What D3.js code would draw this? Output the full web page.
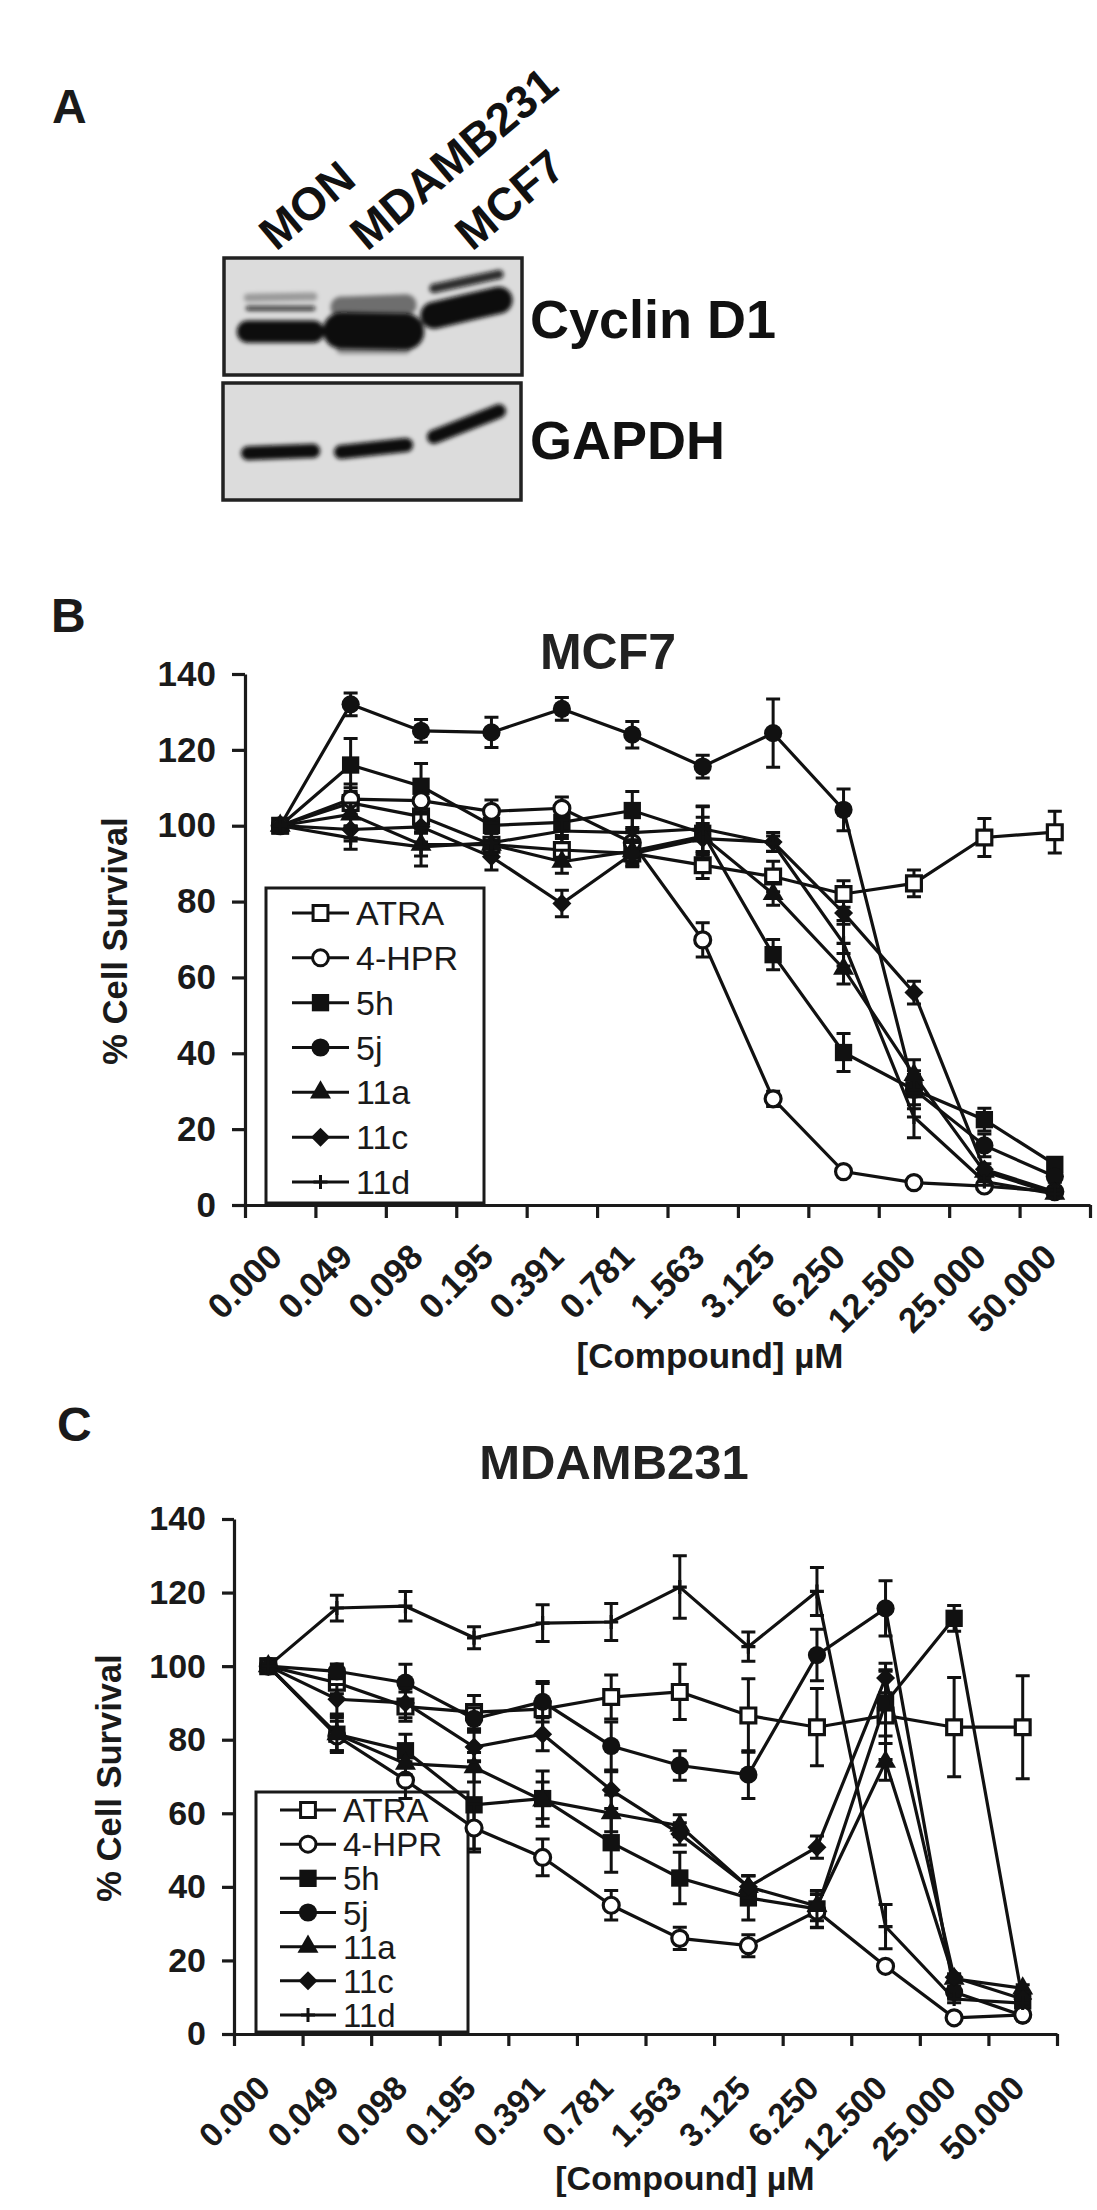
<!DOCTYPE html>
<html>
<head>
<meta charset="utf-8">
<script src="https://cdn.jsdelivr.net/npm/d3@7"></script>
<style>
  html, body { margin: 0; padding: 0; background: #fff; }
  svg { display: block; font-family: "Liberation Sans", Arial, sans-serif; }
  .axis path, .axis line { stroke: #1a1a1a; stroke-width: 3.2; }
  .axis text { font-weight: bold; fill: #1a1a1a; }
</style>
</head>
<body>
<svg id="figure" width="1097" height="2210"></svg>
<script>
// x axis categories and y ticks, shared by both panels
const concentrations = ['0.000', '0.049', '0.098', '0.195', '0.391', '0.781', '1.563', '3.125', '6.250', '12.500', '25.000', '50.000'];
const survivalTicks = [0, 20, 40, 60, 80, 100, 120, 140];
const compounds = ['ATRA', '4-HPR', '5h', '5j', '11a', '11c', '11d'];

// panel B, MCF7
const mcf7Atra = [100, 106, 102.4, 95, 93.6, 92.7, 89.6, 86.6, 82, 84.8, 96.9, 98.3];
const mcf7AtraErr = [0, 4, 4, 3, 3, 3.5, 3.5, 4, 3.5, 3.5, 5, 5.5];
const mcf7Hpr = [100, 107, 106.6, 103.8, 104.6, 95.5, 69.9, 28, 8.8, 5.9, 5, 3.5];
const mcf7HprErr = [0, 4, 3.5, 3, 3, 4, 4.5, 2, 1, 0.5, 0.7, 0.5];
const mcf75h = [100, 116, 110.4, 100.1, 100.9, 104, 98, 66, 40.2, 30.4, 22.5, 10.7];
const mcf75hErr = [0, 7, 6, 4, 3.5, 5, 7, 4, 5, 4, 3, 1.5];
const mcf75j = [100, 132, 125, 124.6, 130.8, 124, 115.6, 124.4, 104.2, 30.4, 15.7, 7.5];
const mcf75jErr = [0, 3, 3, 4, 3, 3.5, 3, 9, 5.5, 5, 3, 1.5];
const mcf711a = [100, 103, 95, 95, 90.5, 93.3, 97.2, 82, 62.3, 34.3, 8.8, 3];
const mcf711aErr = [0, 3, 3, 3, 3, 3, 5, 3, 4, 4, 1, 1];
const mcf711c = [100, 99, 99.7, 91.8, 79.5, 92.6, 96.6, 95.7, 77, 56, 9.4, 3.5];
const mcf711cErr = [0, 3, 4, 3.5, 3.5, 3, 4, 2.5, 3, 3, 1.5, 1];
const mcf711d = [100, 96.8, 94.4, 95.5, 98.6, 98.2, 99.2, 95.3, 69, 23.2, 6.2, 2.9];
const mcf711dErr = [0, 3, 5, 3, 3, 5, 6, 2, 6, 5.5, 1, 1];

// panel C, MDAMB231
const mdaAtra = [100, 95.5, 89, 87.5, 88.3, 91.6, 93, 86.6, 83.4, 86.6, 83.4, 83.4];
const mdaAtraErr = [0, 3, 4, 4.5, 7, 6, 7.5, 10, 10.5, 12, 13.5, 14];
const mdaHpr = [100, 81, 69, 56, 48, 35, 26, 24, 33.4, 18.4, 4.4, 5.2];
const mdaHprErr = [0, 4, 5, 6.5, 5, 4, 3, 3, 4.5, 1, 1, 0.5];
const mda5h = [100, 81.5, 77, 62.3, 64, 52, 42.4, 37, 34, 90, 113, 9];
const mda5hErr = [0, 4.5, 4.5, 12, 7.5, 8, 7, 6, 5, 9, 3.5, 1];
const mda5j = [100, 98.6, 95.5, 85.7, 90.3, 78.3, 73, 70.5, 103, 115.7, 11.4, 5];
const mda5jErr = [0, 2, 5, 3, 5.5, 6.5, 4, 6.5, 7, 7.5, 1.5, 1];
const mda11a = [100, 81.5, 73.5, 72.5, 63.5, 60, 56.6, 40, 34.8, 74, 15, 12.4];
const mda11aErr = [0, 5, 3, 4, 5, 5, 3, 3, 4, 5, 1, 1];
const mda11c = [100, 91, 90, 78, 81.5, 66.3, 54.4, 40, 50.8, 96.8, 15.4, 9.5];
const mda11cErr = [0, 4, 4, 4, 4.5, 5, 3, 3, 3, 4, 1, 2];
const mda11d = [100, 115.8, 116.3, 107.7, 111.7, 112, 121.5, 105.3, 120.3, 29.2, 9.5, 8.4];
const mda11dErr = [0, 3.5, 4, 3, 5, 5, 8.5, 4, 6.5, 6, 1, 1];

// panel A, western blot: lanes, and bands as [lane, migration at left, migration at right, amount, darkness]
const blotLanes = ['MON', 'MDAMB231', 'MCF7'];
const cyclinBands = [
  ['MON', 43, 43, 4, 0.8], ['MON', 34, 33, 7, 0.3], ['MON', 63, 63, 19, 1],
  ['MDAMB231', 42, 40, 18, 0.5], ['MDAMB231', 62, 63, 31, 1], ['MDAMB231', 78, 78, 8, 0.35],
  ['MCF7', 26, 14, 8, 0.85], ['MCF7', 49, 36, 23, 1]
];
const gapdhBands = [
  ['MON', 60, 58, 12, 1], ['MDAMB231', 59, 53, 12, 1], ['MCF7', 46, 24, 12, 1]
];

const svg = d3.select('#figure');

// markers, drawn in the order they sit on top of each other in the figure
const symbols = {
  'ATRA': { type: d3.symbolSquare, size: 220, fill: '#fff' },
  '4-HPR': { type: d3.symbolCircle, size: 200, fill: '#fff' },
  '5h': { type: d3.symbolSquare, size: 300, fill: '#111' },
  '5j': { type: d3.symbolCircle, size: 260, fill: '#111' },
  '11a': { type: d3.symbolTriangle, size: 190, fill: '#111' },
  '11c': { type: d3.symbolDiamond2, size: 230, fill: '#111' },
  '11d': { type: d3.symbolPlus, size: 66, fill: 'none' }
};
const drawOrder = ['ATRA', '5h', '5j', '4-HPR', '11a', '11c', '11d'];

class SurvivalChart {

  constructor(_config, _series) {
    this.config = _config;
    this.series = _series;
    this.initVis();
  }

  initVis() {
    let vis = this;
    let c = vis.config;

    vis.xScale = d3.scaleBand().domain(concentrations).range([c.left, c.right]);
    vis.yScale = d3.scaleLinear().domain([0, 140]).range([c.bottom, c.top]);
    // ticks sit between the categories, so they get their own scale
    vis.edgeScale = d3.scaleLinear().domain([0, concentrations.length]).range([c.left, c.right]);

    vis.chart = svg.append('g');

    vis.chart.append('g')
      .attr('class', 'axis')
      .attr('transform', `translate(${c.left},0)`)
      .call(d3.axisLeft(vis.yScale).tickValues(survivalTicks).tickSize(c.tickLen).tickPadding(16).tickSizeOuter(0))
      .selectAll('text').style('font-size', c.tickFont + 'px');

    vis.chart.append('g')
      .attr('class', 'axis')
      .attr('transform', `translate(0,${c.bottom})`)
      .call(d3.axisBottom(vis.edgeScale).tickValues(d3.range(concentrations.length + 1)).tickFormat('').tickSize(c.tickLen).tickSizeOuter(0));

    let labels = vis.chart.append('g')
      .attr('class', 'axis')
      .attr('transform', `translate(0,${c.bottom})`)
      .call(d3.axisBottom(vis.xScale).tickSize(0));
    labels.select('.domain').remove();
    labels.selectAll('text')
      .attr('x', 0).attr('y', 0).attr('dy', 0)
      .attr('text-anchor', 'end')
      .attr('transform', `translate(4,${c.labelDrop}) rotate(-45)`)
      .style('font-size', c.xTickFont + 'px');

    vis.chart.append('text')
      .attr('x', c.titleX).attr('y', c.titleY)
      .attr('text-anchor', 'middle')
      .style('font-size', c.titleFont + 'px').style('font-weight', 'bold').style('fill', '#222')
      .text(c.title);

    vis.chart.append('text')
      .attr('x', c.xLabelX).attr('y', c.xLabelY)
      .attr('text-anchor', 'middle')
      .style('font-size', c.xLabelFont + 'px').style('font-weight', 'bold').style('fill', '#1a1a1a')
      .text('[Compound] µM');

    vis.chart.append('text')
      .attr('transform', `translate(${c.yLabelX},${c.yLabelY}) rotate(-90)`)
      .attr('text-anchor', 'middle')
      .style('font-size', '34.5px').style('font-weight', 'bold').style('fill', '#1a1a1a')
      .text('% Cell Survival');

    vis.drawLegend();
    vis.drawSeries();
  }

  drawLegend() {
    let vis = this;
    let l = vis.config.legend;

    vis.chart.append('rect')
      .attr('x', l.x).attr('y', l.y).attr('width', l.w).attr('height', l.h)
      .attr('fill', '#fff').attr('stroke', '#1a1a1a').attr('stroke-width', 3);

    let rowScale = d3.scalePoint().domain(compounds).range([l.firstRow, l.lastRow]);

    let rows = vis.chart.append('g').selectAll('g')
      .data(compounds).join('g')
      .attr('transform', d => `translate(${l.x},${rowScale(d)})`);

    rows.append('line')
      .attr('x1', l.lineFrom).attr('x2', l.lineTo)
      .attr('stroke', '#111').attr('stroke-width', 3);

    rows.append('path')
      .attr('transform', `translate(${(l.lineFrom + l.lineTo) / 2},0)`)
      .attr('d', d => d3.symbol().type(symbols[d].type).size(symbols[d].size)())
      .attr('fill', d => symbols[d].fill)
      .attr('stroke', '#111').attr('stroke-width', d => symbols[d].fill === '#111' ? 0 : 3);

    rows.append('text')
      .attr('x', l.textX).attr('y', 12)
      .style('font-size', l.font + 'px').style('fill', '#1a1a1a')
      .text(d => d);
  }

  drawSeries() {
    let vis = this;
    let x = d => vis.xScale(d) + vis.xScale.bandwidth() / 2;
    let y = vis.yScale;
    let capW = 7;

    let line = d3.line().x(d => x(d.conc)).y(d => y(d.value));

    drawOrder.forEach(name => {
      let s = vis.series[name];
      let points = concentrations.map((conc, i) => ({ conc, value: s.values[i], err: s.errors[i] }));
      let g = vis.chart.append('g');

      g.append('path')
        .attr('d', line(points))
        .attr('fill', 'none').attr('stroke', '#111').attr('stroke-width', 3.2);

      g.selectAll('.err').data(points.filter(d => d.err > 0)).join('path')
        .attr('class', 'err')
        .attr('fill', 'none').attr('stroke', '#111').attr('stroke-width', 3)
        .attr('d', d => {
          let px = x(d.conc), hi = y(d.value + d.err), lo = y(d.value - d.err);
          return `M${px - capW},${hi}H${px + capW}M${px},${hi}V${lo}M${px - capW},${lo}H${px + capW}`;
        });

      g.selectAll('.marker').data(points).join('path')
        .attr('class', 'marker')
        .attr('transform', d => `translate(${x(d.conc)},${y(d.value)})`)
        .attr('d', d3.symbol().type(symbols[name].type).size(symbols[name].size)())
        .attr('fill', symbols[name].fill)
        .attr('stroke', '#111').attr('stroke-width', symbols[name].fill === '#111' ? 0 : 3.2);
    });
  }
}

function panelLetter(letter, x, y) {
  svg.append('text').attr('x', x).attr('y', y)
    .style('font-size', '48px').style('font-weight', 'bold').style('fill', '#1a1a1a')
    .text(letter);
}

// ---- panel A
function drawBlot(box, bands, laneScale) {
  let yScale = d3.scaleLinear().domain([0, 100]).range([box.y, box.y + box.h]);

  svg.append('rect')
    .attr('x', box.x).attr('y', box.y).attr('width', box.w).attr('height', box.h)
    .attr('fill', '#dcdcdc');

  let edge = laneScale.bandwidth();
  svg.append('g').attr('filter', 'url(#blotBlur)')
    .selectAll('path').data(bands).join('path')
    .attr('d', d => d3.line().curve(d3.curveBasis)([
      [laneScale(d[0]), yScale(d[1])],
      [laneScale(d[0]) + edge / 2, yScale((d[1] + d[2]) / 2)],
      [laneScale(d[0]) + edge, yScale(d[2])]
    ]))
    .attr('fill', 'none')
    .attr('stroke', '#0a0a0a')
    .attr('stroke-linecap', 'round')
    .attr('stroke-opacity', d => d[4])
    .attr('stroke-width', d => yScale(d[3]) - yScale(0));

  svg.append('rect')
    .attr('x', box.x).attr('y', box.y).attr('width', box.w).attr('height', box.h)
    .attr('fill', 'none').attr('stroke', '#222').attr('stroke-width', 3.5);
}

svg.append('defs').append('filter').attr('id', 'blotBlur')
  .attr('x', '-20%').attr('y', '-30%').attr('width', '140%').attr('height', '160%')
  .append('feGaussianBlur').attr('stdDeviation', 2.2);

const laneScale = d3.scaleBand().domain(blotLanes).range([248, 499]).paddingInner(0.3);

drawBlot({ x: 224, y: 258, w: 298, h: 117 }, cyclinBands, laneScale);
drawBlot({ x: 223, y: 383, w: 298, h: 117 }, gapdhBands, laneScale);

const laneLabelX = [276, 367, 472];
blotLanes.forEach((lane, i) => {
  svg.append('text')
    .attr('transform', `translate(${laneLabelX[i]},252) rotate(-40)`)
    .style('font-size', '46px').style('font-weight', 'bold').style('fill', '#111')
    .text(lane);
});

svg.append('text').attr('x', 530).attr('y', 338)
  .style('font-size', '54px').style('font-weight', 'bold').style('fill', '#111').text('Cyclin D1');
svg.append('text').attr('x', 530).attr('y', 459)
  .style('font-size', '54px').style('font-weight', 'bold').style('fill', '#111').text('GAPDH');

panelLetter('A', 52, 123);
panelLetter('B', 51, 632);
panelLetter('C', 57, 1441);

// ---- panels B and C
function seriesTable(values, errors) {
  let table = {};
  compounds.forEach((name, i) => { table[name] = { values: values[i], errors: errors[i] }; });
  return table;
}

new SurvivalChart({
  title: 'MCF7', titleX: 608, titleY: 669, titleFont: 50,
  left: 245, right: 1090, top: 674, bottom: 1205,
  tickLen: 13, tickFont: 35, xTickFont: 35, labelDrop: 54,
  xLabelX: 710, xLabelY: 1368, xLabelFont: 35, yLabelX: 127, yLabelY: 941,
  legend: { x: 266, y: 888, w: 218, h: 315, firstRow: 913, lastRow: 1182, lineFrom: 26, lineTo: 83, textX: 90, font: 34 }
}, seriesTable(
  [mcf7Atra, mcf7Hpr, mcf75h, mcf75j, mcf711a, mcf711c, mcf711d],
  [mcf7AtraErr, mcf7HprErr, mcf75hErr, mcf75jErr, mcf711aErr, mcf711cErr, mcf711dErr]
));

new SurvivalChart({
  title: 'MDAMB231', titleX: 614, titleY: 1479, titleFont: 49,
  left: 234, right: 1057, top: 1519, bottom: 2034,
  tickLen: 12, tickFont: 34, xTickFont: 33.5, labelDrop: 56,
  xLabelX: 685, xLabelY: 2190, xLabelFont: 34, yLabelX: 121, yLabelY: 1778,
  legend: { x: 256, y: 1792, w: 212, h: 240, firstRow: 1810, lastRow: 2015, lineFrom: 24, lineTo: 80, textX: 87, font: 33 }
}, seriesTable(
  [mdaAtra, mdaHpr, mda5h, mda5j, mda11a, mda11c, mda11d],
  [mdaAtraErr, mdaHprErr, mda5hErr, mda5jErr, mda11aErr, mda11cErr, mda11dErr]
));
</script>
</body>
</html>
